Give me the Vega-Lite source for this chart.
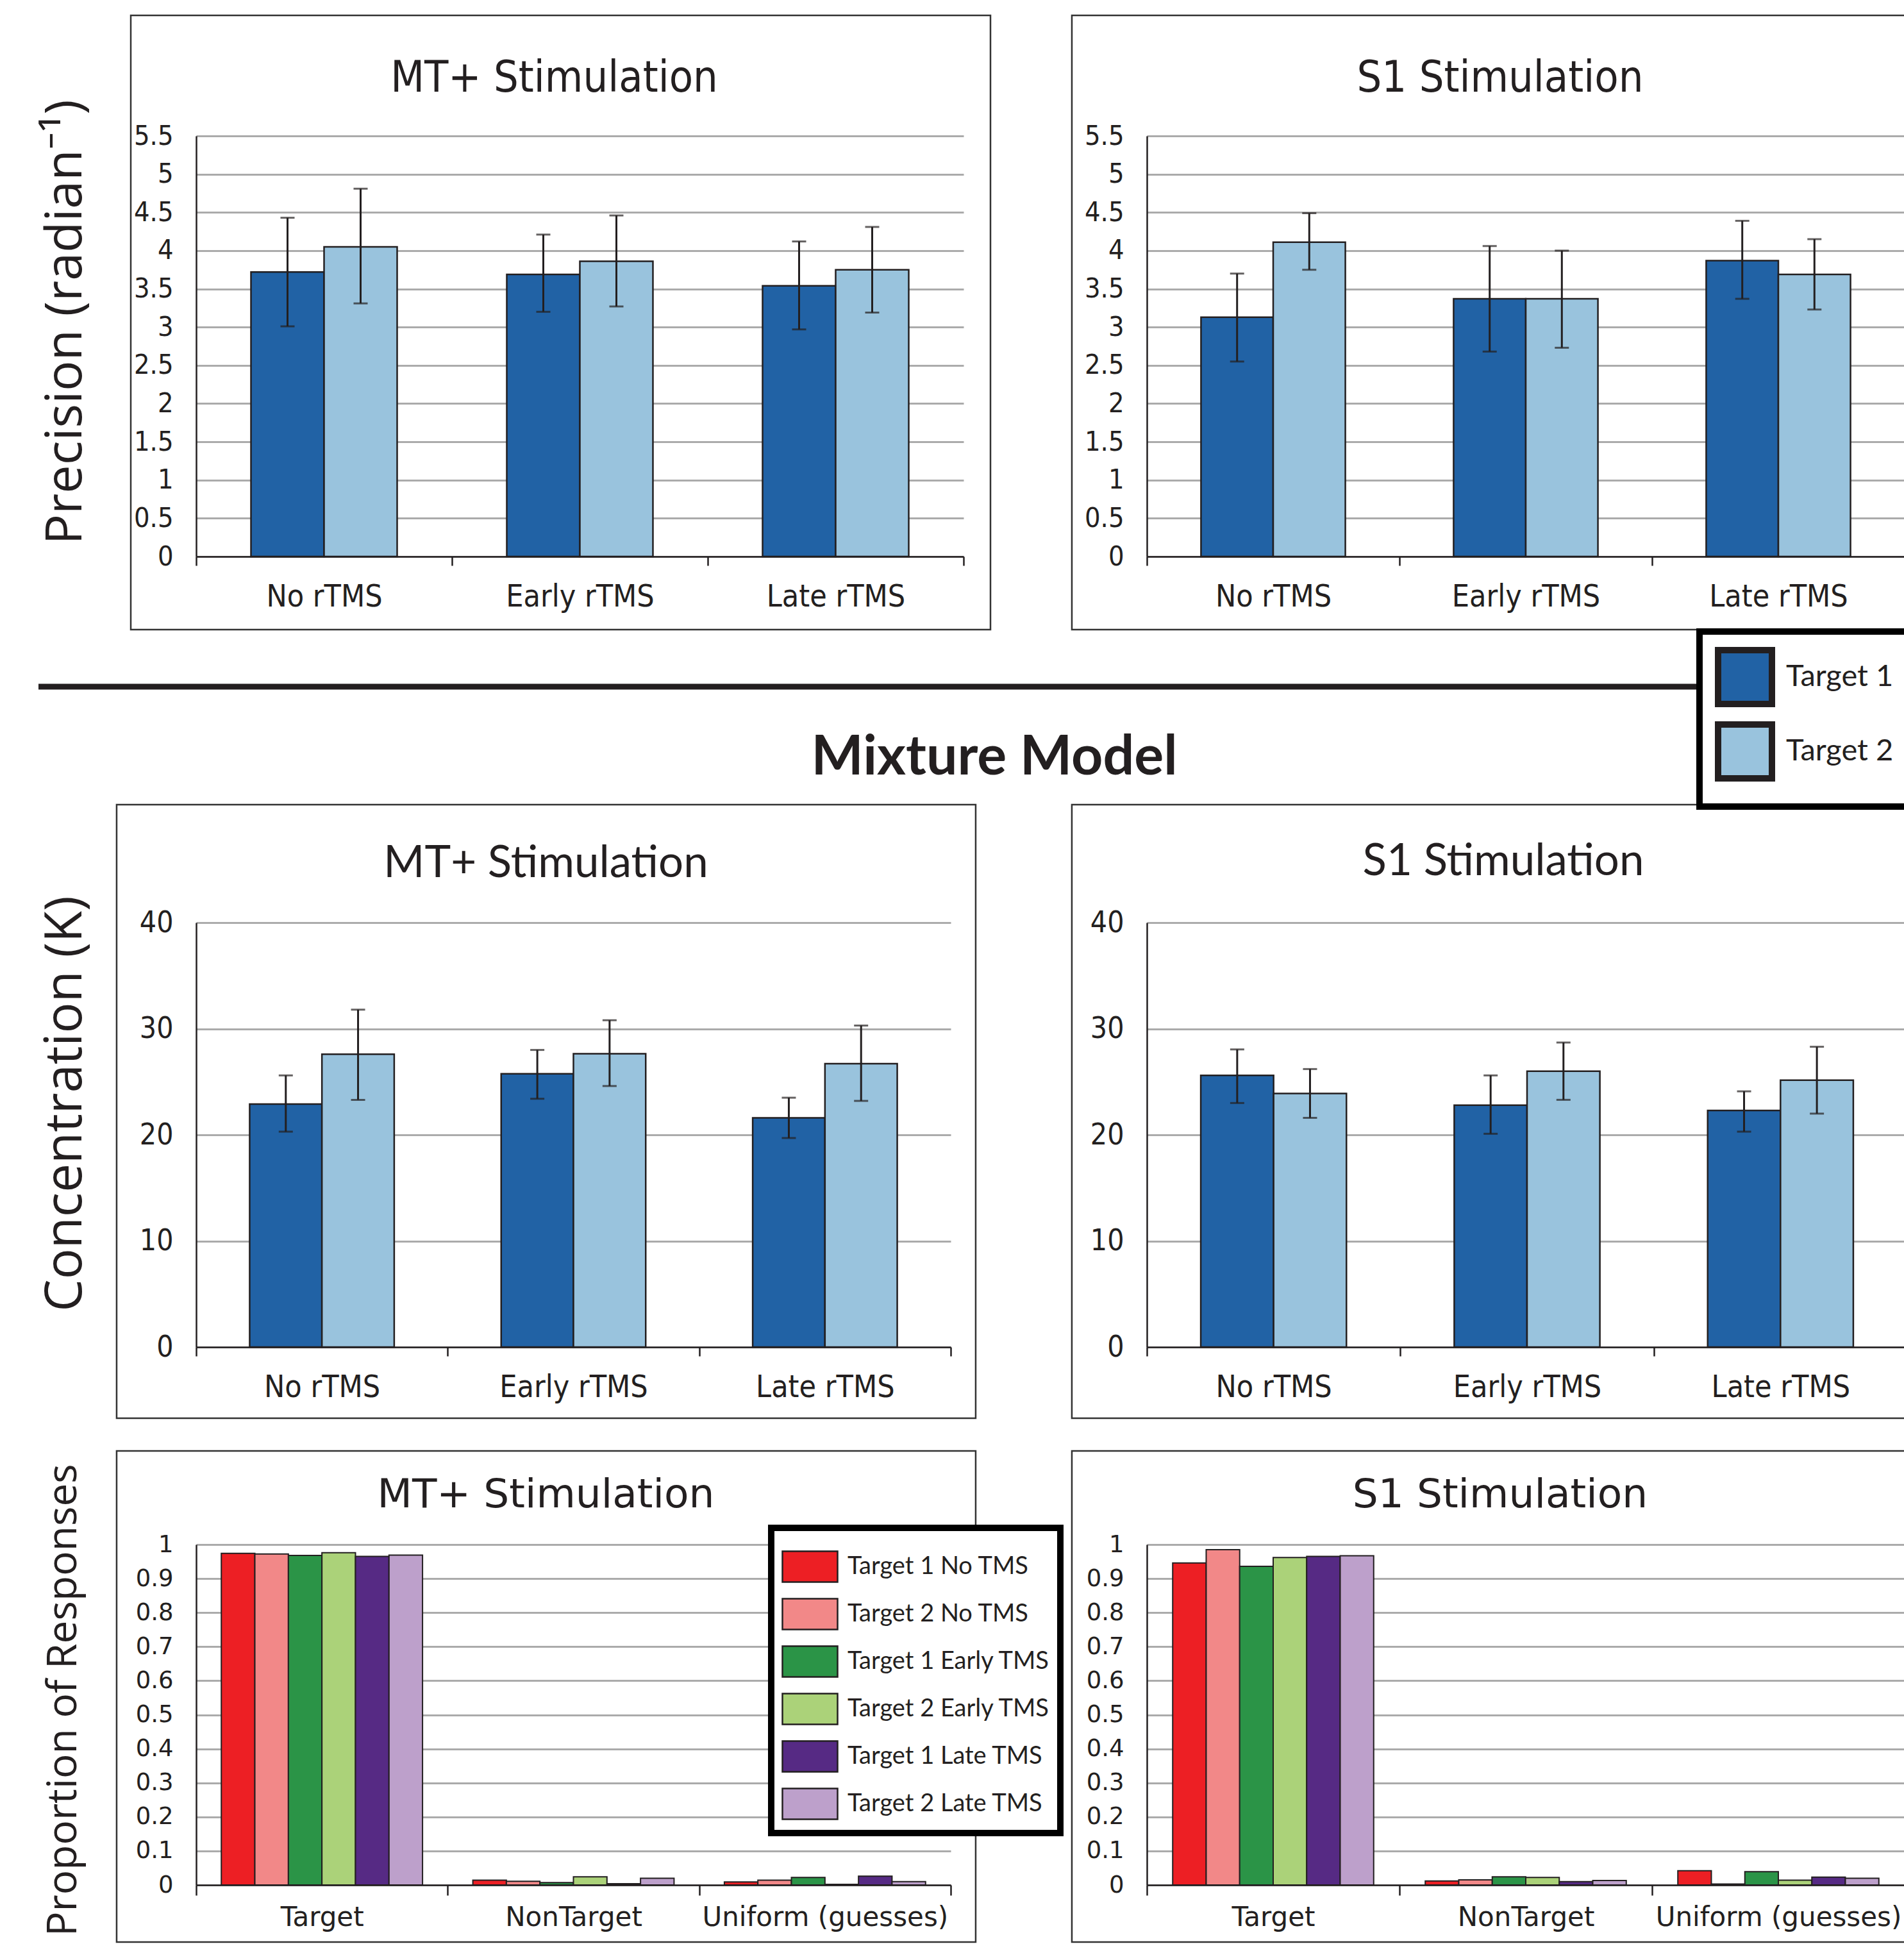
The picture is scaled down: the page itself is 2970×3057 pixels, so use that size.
{
  "$schema": "https://vega.github.io/schema/vega-lite/v6.json",
  "padding": {"left": 55, "top": 22, "right": 0, "bottom": 0},
  "background": "white",
  "datasets": {
    "prec_mt": [
      {"cond": "No rTMS", "target": "Target 1", "mean": 3.72, "lo": 3.01, "hi": 4.43},
      {"cond": "No rTMS", "target": "Target 2", "mean": 4.05, "lo": 3.31, "hi": 4.81},
      {"cond": "Early rTMS", "target": "Target 1", "mean": 3.69, "lo": 3.20, "hi": 4.21},
      {"cond": "Early rTMS", "target": "Target 2", "mean": 3.86, "lo": 3.27, "hi": 4.46},
      {"cond": "Late rTMS", "target": "Target 1", "mean": 3.54, "lo": 2.97, "hi": 4.12},
      {"cond": "Late rTMS", "target": "Target 2", "mean": 3.75, "lo": 3.19, "hi": 4.31}
    ],
    "prec_s1": [
      {"cond": "No rTMS", "target": "Target 1", "mean": 3.13, "lo": 2.55, "hi": 3.70},
      {"cond": "No rTMS", "target": "Target 2", "mean": 4.11, "lo": 3.75, "hi": 4.49},
      {"cond": "Early rTMS", "target": "Target 1", "mean": 3.37, "lo": 2.68, "hi": 4.06},
      {"cond": "Early rTMS", "target": "Target 2", "mean": 3.37, "lo": 2.73, "hi": 4.00},
      {"cond": "Late rTMS", "target": "Target 1", "mean": 3.87, "lo": 3.37, "hi": 4.39},
      {"cond": "Late rTMS", "target": "Target 2", "mean": 3.69, "lo": 3.23, "hi": 4.15}
    ],
    "conc_mt": [
      {"cond": "No rTMS", "target": "Target 1", "mean": 22.9, "lo": 20.3, "hi": 25.6},
      {"cond": "No rTMS", "target": "Target 2", "mean": 27.6, "lo": 23.3, "hi": 31.8},
      {"cond": "Early rTMS", "target": "Target 1", "mean": 25.75, "lo": 23.4, "hi": 28.0},
      {"cond": "Early rTMS", "target": "Target 2", "mean": 27.65, "lo": 24.6, "hi": 30.8},
      {"cond": "Late rTMS", "target": "Target 1", "mean": 21.6, "lo": 19.7, "hi": 23.5},
      {"cond": "Late rTMS", "target": "Target 2", "mean": 26.7, "lo": 23.2, "hi": 30.3}
    ],
    "conc_s1": [
      {"cond": "No rTMS", "target": "Target 1", "mean": 25.6, "lo": 23.0, "hi": 28.05},
      {"cond": "No rTMS", "target": "Target 2", "mean": 23.9, "lo": 21.6, "hi": 26.2},
      {"cond": "Early rTMS", "target": "Target 1", "mean": 22.8, "lo": 20.1, "hi": 25.6},
      {"cond": "Early rTMS", "target": "Target 2", "mean": 26.0, "lo": 23.3, "hi": 28.7},
      {"cond": "Late rTMS", "target": "Target 1", "mean": 22.3, "lo": 20.3, "hi": 24.1},
      {"cond": "Late rTMS", "target": "Target 2", "mean": 25.15, "lo": 22.0, "hi": 28.3}
    ],
    "prop_mt": [
      {"cat": "Target", "cond": "Target 1 No TMS", "value": 0.974},
      {"cat": "Target", "cond": "Target 2 No TMS", "value": 0.972},
      {"cat": "Target", "cond": "Target 1 Early TMS", "value": 0.968},
      {"cat": "Target", "cond": "Target 2 Early TMS", "value": 0.976},
      {"cat": "Target", "cond": "Target 1 Late TMS", "value": 0.965},
      {"cat": "Target", "cond": "Target 2 Late TMS", "value": 0.969},
      {"cat": "NonTarget", "cond": "Target 1 No TMS", "value": 0.014},
      {"cat": "NonTarget", "cond": "Target 2 No TMS", "value": 0.011},
      {"cat": "NonTarget", "cond": "Target 1 Early TMS", "value": 0.007},
      {"cat": "NonTarget", "cond": "Target 2 Early TMS", "value": 0.024},
      {"cat": "NonTarget", "cond": "Target 1 Late TMS", "value": 0.004},
      {"cat": "NonTarget", "cond": "Target 2 Late TMS", "value": 0.020},
      {"cat": "Uniform (guesses)", "cond": "Target 1 No TMS", "value": 0.009},
      {"cat": "Uniform (guesses)", "cond": "Target 2 No TMS", "value": 0.014},
      {"cat": "Uniform (guesses)", "cond": "Target 1 Early TMS", "value": 0.022},
      {"cat": "Uniform (guesses)", "cond": "Target 2 Early TMS", "value": 0.002},
      {"cat": "Uniform (guesses)", "cond": "Target 1 Late TMS", "value": 0.026},
      {"cat": "Uniform (guesses)", "cond": "Target 2 Late TMS", "value": 0.010}
    ],
    "prop_s1": [
      {"cat": "Target", "cond": "Target 1 No TMS", "value": 0.946},
      {"cat": "Target", "cond": "Target 2 No TMS", "value": 0.985},
      {"cat": "Target", "cond": "Target 1 Early TMS", "value": 0.936},
      {"cat": "Target", "cond": "Target 2 Early TMS", "value": 0.962},
      {"cat": "Target", "cond": "Target 1 Late TMS", "value": 0.965},
      {"cat": "Target", "cond": "Target 2 Late TMS", "value": 0.967},
      {"cat": "NonTarget", "cond": "Target 1 No TMS", "value": 0.012},
      {"cat": "NonTarget", "cond": "Target 2 No TMS", "value": 0.015},
      {"cat": "NonTarget", "cond": "Target 1 Early TMS", "value": 0.024},
      {"cat": "NonTarget", "cond": "Target 2 Early TMS", "value": 0.022},
      {"cat": "NonTarget", "cond": "Target 1 Late TMS", "value": 0.010},
      {"cat": "NonTarget", "cond": "Target 2 Late TMS", "value": 0.013},
      {"cat": "Uniform (guesses)", "cond": "Target 1 No TMS", "value": 0.042},
      {"cat": "Uniform (guesses)", "cond": "Target 2 No TMS", "value": 0.003},
      {"cat": "Uniform (guesses)", "cond": "Target 1 Early TMS", "value": 0.039},
      {"cat": "Uniform (guesses)", "cond": "Target 2 Early TMS", "value": 0.014},
      {"cat": "Uniform (guesses)", "cond": "Target 1 Late TMS", "value": 0.023},
      {"cat": "Uniform (guesses)", "cond": "Target 2 Late TMS", "value": 0.020}
    ],
    "sep": [{"label": "Mixture Model"}],
    "frame": [{"panel": "frame"}]
  },
  "config": {
    "view": {"stroke": null},
    "font": "Lato",
    "legend": {"strokeWidth": 10, "labelLimit": 1000},
    "axis": {"domainColor": "#231f20", "domainWidth": 2.5, "tickColor": "#231f20", "tickWidth": 2.5, "labelColor": "#231f20", "titleColor": "#231f20", "titleFontWeight": "normal", "gridColor": "#ababab", "gridWidth": 3, "labelLimit": 1000},
    "axisX": {"grid": false, "tickBand": "extent", "tickSize": 14, "labelAngle": 0},
    "axisY": {"ticks": false, "grid": true, "labelPadding": 36},
    "title": {"color": "#231f20", "fontWeight": "normal", "anchor": "middle", "baseline": "alphabetic", "frame": "group"}
  },
  "columns": 2,
  "spacing": {"row": 308, "column": 286},
  "bounds": "flush",
  "resolve": {"scale": {"color": "independent", "xOffset": "independent"}},
  "concat": [
    {
      "width": 1197, "height": 656,
      "title": {"text": "MT+ Stimulation", "font": "Liberation Sans Narrow, DejaVu Sans Condensed, sans-serif", "fontSize": 68, "dx": -40, "offset": -134},
      "resolve": {"scale": {"x": "independent", "y": "independent"}},
      "layer": [
        {
          "data": {"name": "prec_mt"},
          "encoding": {
            "x": {"field": "cond", "type": "nominal", "sort": ["No rTMS", "Early rTMS", "Late rTMS"], "scale": {"paddingInner": 0, "paddingOuter": 0},
              "axis": {"title": null, "labelFont": "Liberation Sans Narrow, DejaVu Sans Condensed, sans-serif", "labelFontSize": 48, "labelPadding": 25}},
            "xOffset": {"field": "target", "type": "nominal", "sort": ["Target 1", "Target 2"], "scale": {"paddingInner": 0, "paddingOuter": 0.75}}
          },
          "layer": [
            {"mark": {"type": "bar", "stroke": "#231f20", "strokeWidth": 2.5},
             "encoding": {
               "y": {"field": "mean", "type": "quantitative", "scale": {"domain": [0, 5.5], "nice": false},
                 "axis": {"title": "Precision (radian⁻¹)", "values": [0, 0.5, 1, 1.5, 2, 2.5, 3, 3.5, 4, 4.5, 5, 5.5], "format": "~g", "labelFont": "Liberation Sans Narrow, DejaVu Sans Condensed, sans-serif", "labelFontSize": 43, "titleFont": "Open Sans", "titleFontSize": 79, "titleX": -204, "titleY": 290, "titleAngle": 270, "titleAlign": "center", "titleBaseline": "middle"}},
               "color": {"field": "target", "type": "nominal", "scale": {"domain": ["Target 1", "Target 2"], "range": ["#2162a5", "#99c3dd"]}, "legend": null}
             }},
            {"mark": {"type": "rule", "color": "#231f20", "strokeWidth": 3},
             "encoding": {"y": {"field": "lo", "type": "quantitative", "axis": {"title": "Precision (radian⁻¹)"}}, "y2": {"field": "hi"}}},
            {"mark": {"type": "tick", "color": "#231f20", "thickness": 3, "size": 22},
             "encoding": {"y": {"field": "lo", "type": "quantitative", "axis": {"title": "Precision (radian⁻¹)"}}}},
            {"mark": {"type": "tick", "color": "#231f20", "thickness": 3, "size": 22},
             "encoding": {"y": {"field": "hi", "type": "quantitative", "axis": {"title": "Precision (radian⁻¹)"}}}}
          ]
        },
        {
          "data": {"name": "frame"},
          "mark": {"type": "rect", "fillOpacity": 0, "stroke": "#333333", "strokeWidth": 2.5, "clip": false},
          "encoding": {
            "x": {"datum": -0.0852, "type": "quantitative", "scale": {"domain": [0, 1], "nice": false, "zero": false}, "axis": null},
            "x2": {"datum": 1.0351},
            "y": {"datum": 1.2866, "type": "quantitative", "scale": {"domain": [0, 1], "nice": false, "zero": false}, "axis": null},
            "y2": {"datum": -0.1738}
          }
        }
      ]
    },
    {
      "width": 1182, "height": 656,
      "title": {"text": "S1 Stimulation", "font": "Liberation Sans Narrow, DejaVu Sans Condensed, sans-serif", "fontSize": 68, "dx": -40, "offset": -134},
      "resolve": {"scale": {"x": "independent", "y": "independent"}},
      "layer": [
        {
          "data": {"name": "prec_s1"},
          "encoding": {
            "x": {"field": "cond", "type": "nominal", "sort": ["No rTMS", "Early rTMS", "Late rTMS"], "scale": {"paddingInner": 0, "paddingOuter": 0},
              "axis": {"title": null, "labelFont": "Liberation Sans Narrow, DejaVu Sans Condensed, sans-serif", "labelFontSize": 48, "labelPadding": 25}},
            "xOffset": {"field": "target", "type": "nominal", "sort": ["Target 1", "Target 2"], "scale": {"paddingInner": 0, "paddingOuter": 0.75}}
          },
          "layer": [
            {"mark": {"type": "bar", "stroke": "#231f20", "strokeWidth": 2.5},
             "encoding": {
               "y": {"field": "mean", "type": "quantitative", "scale": {"domain": [0, 5.5], "nice": false},
                 "axis": {"title": null, "values": [0, 0.5, 1, 1.5, 2, 2.5, 3, 3.5, 4, 4.5, 5, 5.5], "format": "~g", "labelFont": "Liberation Sans Narrow, DejaVu Sans Condensed, sans-serif", "labelFontSize": 43}},
               "color": {"field": "target", "type": "nominal", "scale": {"domain": ["Target 1", "Target 2"], "range": ["#2162a5", "#99c3dd"]}, "legend": null}
             }},
            {"mark": {"type": "rule", "color": "#231f20", "strokeWidth": 3},
             "encoding": {"y": {"field": "lo", "type": "quantitative", "axis": {"title": null}}, "y2": {"field": "hi"}}},
            {"mark": {"type": "tick", "color": "#231f20", "thickness": 3, "size": 22},
             "encoding": {"y": {"field": "lo", "type": "quantitative", "axis": {"title": null}}}},
            {"mark": {"type": "tick", "color": "#231f20", "thickness": 3, "size": 22},
             "encoding": {"y": {"field": "hi", "type": "quantitative", "axis": {"title": null}}}}
          ]
        },
        {
          "data": {"name": "frame"},
          "mark": {"type": "rect", "fillOpacity": 0, "stroke": "#333333", "strokeWidth": 2.5, "clip": false},
          "encoding": {
            "x": {"datum": -0.099, "type": "quantitative", "scale": {"domain": [0, 1], "nice": false, "zero": false}, "axis": null},
            "x2": {"datum": 1.1},
            "y": {"datum": 1.2866, "type": "quantitative", "scale": {"domain": [0, 1], "nice": false, "zero": false}, "axis": null},
            "y2": {"datum": -0.1738}
          }
        }
      ]
    },
    {
      "width": 1177, "height": 925,
      "title": {"text": "MT+ Stimulation", "font": "Lato", "fontSize": 69, "dx": -43, "offset": -315},
      "resolve": {"scale": {"x": "independent", "y": "independent"}},
      "layer": [
        {
          "data": {"name": "conc_mt"},
          "encoding": {
            "x": {"field": "cond", "type": "nominal", "sort": ["No rTMS", "Early rTMS", "Late rTMS"], "scale": {"paddingInner": 0, "paddingOuter": 0},
              "axis": {"title": null, "labelFont": "Liberation Sans Narrow, DejaVu Sans Condensed, sans-serif", "labelFontSize": 48, "labelPadding": 25}},
            "xOffset": {"field": "target", "type": "nominal", "sort": ["Target 1", "Target 2"], "scale": {"paddingInner": 0, "paddingOuter": 0.74}}
          },
          "layer": [
            {"mark": {"type": "bar", "stroke": "#231f20", "strokeWidth": 2.5},
             "encoding": {
               "y": {"field": "mean", "type": "quantitative", "scale": {"domain": [0, 40], "range": [925, 263], "nice": false},
                 "axis": {"title": "Concentration (K)", "values": [0, 10, 20, 30, 40], "labelFont": "Liberation Sans Narrow, DejaVu Sans Condensed, sans-serif", "labelFontSize": 46, "titleFont": "Open Sans", "titleFontSize": 80, "titleX": -204, "titleY": 545, "titleAngle": 270, "titleAlign": "center", "titleBaseline": "middle"}},
               "color": {"field": "target", "type": "nominal", "scale": {"domain": ["Target 1", "Target 2"], "range": ["#2162a5", "#99c3dd"]}, "legend": null}
             }},
            {"mark": {"type": "rule", "color": "#231f20", "strokeWidth": 3},
             "encoding": {"y": {"field": "lo", "type": "quantitative", "axis": {"title": "Concentration (K)"}}, "y2": {"field": "hi"}}},
            {"mark": {"type": "tick", "color": "#231f20", "thickness": 3, "size": 22},
             "encoding": {"y": {"field": "lo", "type": "quantitative", "axis": {"title": "Concentration (K)"}}}},
            {"mark": {"type": "tick", "color": "#231f20", "thickness": 3, "size": 22},
             "encoding": {"y": {"field": "hi", "type": "quantitative", "axis": {"title": "Concentration (K)"}}}}
          ]
        },
        {
          "data": {"name": "sep"},
          "encoding": {
            "x": {"datum": -0.209, "type": "quantitative", "scale": {"domain": [0, 1], "nice": false, "zero": false}, "axis": null},
            "y": {"datum": 1.1135, "type": "quantitative", "scale": {"domain": [0, 1], "nice": false, "zero": false}, "axis": null}
          },
          "layer": [
            {"mark": {"type": "rule", "color": "#231f20", "strokeWidth": 9, "clip": false},
             "encoding": {"x2": {"datum": 1.994}}},
            {"mark": {"type": "text", "font": "Lato", "fontWeight": "bold", "fontSize": 86, "color": "#231f20", "align": "center", "baseline": "middle", "clip": false},
             "encoding": {
               "x": {"datum": 1.0578, "type": "quantitative"},
               "y": {"datum": 0.9935, "type": "quantitative"},
               "text": {"field": "label"}
             }},
            {"mark": {"type": "rect", "fillOpacity": 0, "stroke": "#333333", "strokeWidth": 2.5, "clip": false},
             "encoding": {
               "x": {"datum": -0.1054, "type": "quantitative"},
               "x2": {"datum": 1.0331},
               "y": {"datum": 0.9146, "type": "quantitative"},
               "y2": {"datum": -0.12}
             }}
          ]
        }
      ]
    },
    {
      "width": 1186, "height": 925,
      "title": {"text": "S1 Stimulation", "font": "Lato", "fontSize": 69, "dx": -37, "offset": -399},
      "resolve": {"scale": {"x": "independent", "y": "independent"}},
      "layer": [
        {
          "data": {"name": "conc_s1"},
          "encoding": {
            "x": {"field": "cond", "type": "nominal", "sort": ["No rTMS", "Early rTMS", "Late rTMS"], "scale": {"paddingInner": 0, "paddingOuter": 0},
              "axis": {"title": null, "labelFont": "Liberation Sans Narrow, DejaVu Sans Condensed, sans-serif", "labelFontSize": 48, "labelPadding": 25}},
            "xOffset": {"field": "target", "type": "nominal", "sort": ["Target 1", "Target 2"], "scale": {"paddingInner": 0, "paddingOuter": 0.74}}
          },
          "layer": [
            {"mark": {"type": "bar", "stroke": "#231f20", "strokeWidth": 2.5},
             "encoding": {
               "y": {"field": "mean", "type": "quantitative", "scale": {"domain": [0, 40], "range": [925, 263], "nice": false},
                 "axis": {"title": null, "values": [0, 10, 20, 30, 40], "labelFont": "Liberation Sans Narrow, DejaVu Sans Condensed, sans-serif", "labelFontSize": 46}},
               "color": {"field": "target", "type": "nominal", "scale": {"domain": ["Target 1", "Target 2"], "range": ["#2162a5", "#99c3dd"]},
                 "legend": {"orient": "none", "legendX": 862, "legendY": -191, "title": null, "symbolType": "square", "symbolSize": 7056, "symbolStrokeWidth": 10, "symbolStrokeColor": "#231f20", "labelFont": "Lato", "labelFontSize": 47, "labelColor": "#231f20", "labelOffset": 17, "rowPadding": -8, "padding": 24, "strokeColor": "#000000", "fillColor": "white"}}
             }},
            {"mark": {"type": "rule", "color": "#231f20", "strokeWidth": 3},
             "encoding": {"y": {"field": "lo", "type": "quantitative", "axis": {"title": null}}, "y2": {"field": "hi"}}},
            {"mark": {"type": "tick", "color": "#231f20", "thickness": 3, "size": 22},
             "encoding": {"y": {"field": "lo", "type": "quantitative", "axis": {"title": null}}}},
            {"mark": {"type": "tick", "color": "#231f20", "thickness": 3, "size": 22},
             "encoding": {"y": {"field": "hi", "type": "quantitative", "axis": {"title": null}}}}
          ]
        },
        {
          "data": {"name": "frame"},
          "mark": {"type": "rect", "fillOpacity": 0, "stroke": "#333333", "strokeWidth": 2.5, "clip": false},
          "encoding": {
            "x": {"datum": -0.0987, "type": "quantitative", "scale": {"domain": [0, 1], "nice": false, "zero": false}, "axis": null},
            "x2": {"datum": 1.1},
            "y": {"datum": 0.9146, "type": "quantitative", "scale": {"domain": [0, 1], "nice": false, "zero": false}, "axis": null},
            "y2": {"datum": -0.12}
          }
        }
      ]
    },
    {
      "width": 1177, "height": 531,
      "title": {"text": "MT+ Stimulation", "font": "DejaVu Sans", "fontSize": 63, "dx": -43, "offset": -102},
      "resolve": {"scale": {"x": "independent", "y": "independent"}},
      "layer": [
        {
          "data": {"name": "prop_mt"},
          "mark": {"type": "bar", "stroke": "#231f20", "strokeWidth": 2},
          "encoding": {
            "x": {"field": "cat", "type": "nominal", "sort": ["Target", "NonTarget", "Uniform (guesses)"], "scale": {"paddingInner": 0, "paddingOuter": 0},
              "axis": {"title": null, "labelFont": "DejaVu Sans", "labelFontSize": 42, "labelPadding": 14, "tickSize": 16}},
            "xOffset": {"field": "cond", "type": "nominal", "sort": ["Target 1 No TMS", "Target 2 No TMS", "Target 1 Early TMS", "Target 2 Early TMS", "Target 1 Late TMS", "Target 2 Late TMS"], "scale": {"paddingInner": 0, "paddingOuter": 0.75}},
            "y": {"field": "value", "type": "quantitative", "scale": {"domain": [0, 1], "nice": false},
              "axis": {"title": "Proportion of Responses", "values": [0, 0.1, 0.2, 0.3, 0.4, 0.5, 0.6, 0.7, 0.8, 0.9, 1], "format": "~g", "labelFont": "DejaVu Sans", "labelFontSize": 37, "titleFont": "Open Sans", "titleFontSize": 64, "titleX": -207, "titleY": 242, "titleAngle": 270, "titleAlign": "center", "titleBaseline": "middle"}},
            "color": {"field": "cond", "type": "nominal", "sort": ["Target 1 No TMS", "Target 2 No TMS", "Target 1 Early TMS", "Target 2 Early TMS", "Target 1 Late TMS", "Target 2 Late TMS"],
              "scale": {"domain": ["Target 1 No TMS", "Target 2 No TMS", "Target 1 Early TMS", "Target 2 Early TMS", "Target 1 Late TMS", "Target 2 Late TMS"], "range": ["#ed1f24", "#f28888", "#2b9447", "#abd279", "#562a84", "#bda0cb"]},
              "legend": {"orient": "none", "legendX": 897, "legendY": -26, "title": null, "symbolType": "M-1,-0.558H1V0.558H-1Z", "symbolSize": 7396, "symbolStrokeWidth": 2.5, "symbolStrokeColor": "#231f20", "labelFont": "Lato", "labelFontSize": 38, "labelColor": "#231f20", "labelOffset": 14, "rowPadding": -4, "padding": 16, "strokeColor": "#000000", "fillColor": "white"}}
          }
        },
        {
          "data": {"name": "frame"},
          "mark": {"type": "rect", "fillOpacity": 0, "stroke": "#333333", "strokeWidth": 2.5, "clip": false},
          "encoding": {
            "x": {"datum": -0.1054, "type": "quantitative", "scale": {"domain": [0, 1], "nice": false, "zero": false}, "axis": null},
            "x2": {"datum": 1.0331},
            "y": {"datum": 1.275, "type": "quantitative", "scale": {"domain": [0, 1], "nice": false, "zero": false}, "axis": null},
            "y2": {"datum": -0.1676}
          }
        }
      ]
    },
    {
      "width": 1182, "height": 531,
      "title": {"text": "S1 Stimulation", "font": "DejaVu Sans", "fontSize": 63, "dx": -40, "offset": -102},
      "resolve": {"scale": {"x": "independent", "y": "independent"}},
      "layer": [
        {
          "data": {"name": "prop_s1"},
          "mark": {"type": "bar", "stroke": "#231f20", "strokeWidth": 2},
          "encoding": {
            "x": {"field": "cat", "type": "nominal", "sort": ["Target", "NonTarget", "Uniform (guesses)"], "scale": {"paddingInner": 0, "paddingOuter": 0},
              "axis": {"title": null, "labelFont": "DejaVu Sans", "labelFontSize": 42, "labelPadding": 14, "tickSize": 16}},
            "xOffset": {"field": "cond", "type": "nominal", "sort": ["Target 1 No TMS", "Target 2 No TMS", "Target 1 Early TMS", "Target 2 Early TMS", "Target 1 Late TMS", "Target 2 Late TMS"], "scale": {"paddingInner": 0, "paddingOuter": 0.77}},
            "y": {"field": "value", "type": "quantitative", "scale": {"domain": [0, 1], "nice": false},
              "axis": {"title": null, "values": [0, 0.1, 0.2, 0.3, 0.4, 0.5, 0.6, 0.7, 0.8, 0.9, 1], "format": "~g", "labelFont": "DejaVu Sans", "labelFontSize": 37}},
            "color": {"field": "cond", "type": "nominal", "sort": ["Target 1 No TMS", "Target 2 No TMS", "Target 1 Early TMS", "Target 2 Early TMS", "Target 1 Late TMS", "Target 2 Late TMS"],
              "scale": {"domain": ["Target 1 No TMS", "Target 2 No TMS", "Target 1 Early TMS", "Target 2 Early TMS", "Target 1 Late TMS", "Target 2 Late TMS"], "range": ["#ed1f24", "#f28888", "#2b9447", "#abd279", "#562a84", "#bda0cb"]},
              "legend": null}
          }
        },
        {
          "data": {"name": "frame"},
          "mark": {"type": "rect", "fillOpacity": 0, "stroke": "#333333", "strokeWidth": 2.5, "clip": false},
          "encoding": {
            "x": {"datum": -0.099, "type": "quantitative", "scale": {"domain": [0, 1], "nice": false, "zero": false}, "axis": null},
            "x2": {"datum": 1.1},
            "y": {"datum": 1.275, "type": "quantitative", "scale": {"domain": [0, 1], "nice": false, "zero": false}, "axis": null},
            "y2": {"datum": -0.1676}
          }
        }
      ]
    }
  ]
}
